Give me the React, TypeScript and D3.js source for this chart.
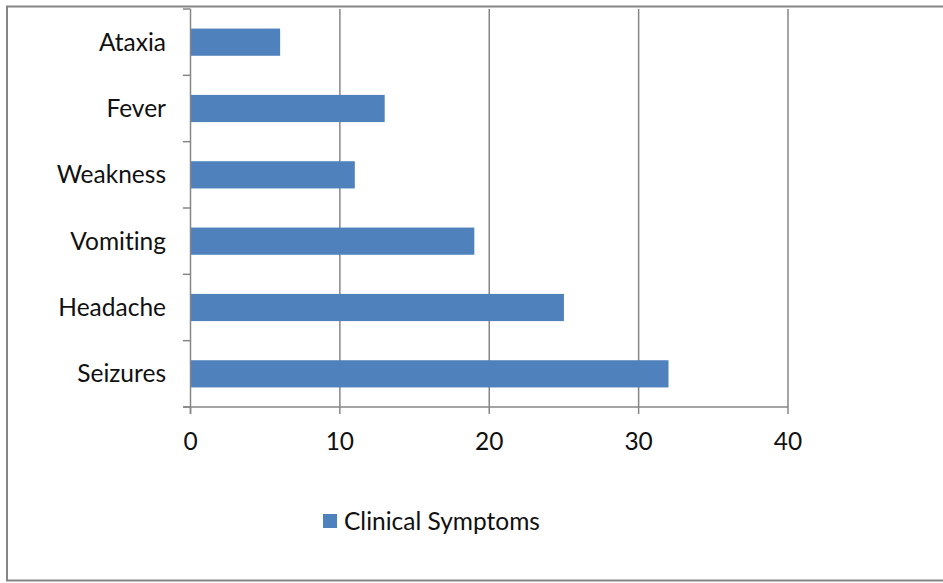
import React from "react";
import * as d3 from "d3";

const categories = ["Ataxia", "Fever", "Weakness", "Vomiting", "Headache", "Seizures"];
const values = [6, 13, 11, 19, 25, 32];
const xTicks = [0, 10, 20, 30, 40];
const seriesName = "Clinical Symptoms";

const W = 943;
const H = 583;
const FONT = "Lato, 'Open Sans', sans-serif";
const FS = 24.5;
const AXIS = "#868686";
const BAR = "#4F81BD";

export default function App() {
  const x = d3.scaleLinear().domain([0, 40]).range([190.5, 788]);
  const y = d3.scaleBand<string>().domain(categories).range([9, 407]).paddingInner(0.59).paddingOuter(0.295);
  const band = (407 - 9) / categories.length;
  const boundaries = d3.range(categories.length + 1).map((i) => 9 + i * band);

  return (
    <svg
      width={W}
      height={H}
      style={{ position: "absolute", left: 0, top: 0, background: "#fff", fontVariantLigatures: "none" }}
      fontFamily={FONT}
    >
      {/* chart frame */}
      <path d={`M${W + 2},6.5 H7 V580.5 H${W + 2}`} fill="none" stroke={AXIS} strokeWidth={2} />

      {/* vertical gridlines */}
      {xTicks.slice(1).map((t) => (
        <line key={"g" + t} x1={x(t)} x2={x(t)} y1={9} y2={407} stroke={AXIS} strokeWidth={1.5} />
      ))}

      {/* bars */}
      {categories.map((c, i) => (
        <rect key={c} x={x(0)} y={y(c)} width={x(values[i]) - x(0)} height={y.bandwidth()} fill={BAR} />
      ))}

      {/* category axis */}
      <line x1={x(0)} x2={x(0)} y1={9} y2={414} stroke={AXIS} strokeWidth={1.5} />
      {boundaries.map((b, i) => (
        <line key={"yt" + i} x1={183} x2={x(0)} y1={b} y2={b} stroke={AXIS} strokeWidth={1.5} />
      ))}
      {categories.map((c) => (
        <text key={"l" + c} x={166} y={(y(c) ?? 0) + y.bandwidth() / 2} dy="0.35em" textAnchor="end" fontSize={FS} fill="#111">
          {c}
        </text>
      ))}

      {/* value axis */}
      <line x1={183} x2={x(40)} y1={407} y2={407} stroke={AXIS} strokeWidth={1.5} />
      {xTicks.map((t) => (
        <line key={"xt" + t} x1={x(t)} x2={x(t)} y1={407} y2={414} stroke={AXIS} strokeWidth={1.5} />
      ))}
      {xTicks.map((t) => (
        <text key={"xl" + t} x={x(t)} y={441} dy="0.35em" textAnchor="middle" fontSize={FS} fill="#111">
          {t}
        </text>
      ))}

      {/* legend */}
      <rect x={323} y={514} width={14} height={14} fill={BAR} />
      <text x={344} y={521} dy="0.35em" fontSize={FS} fill="#111">
        {seriesName}
      </text>
    </svg>
  );
}
